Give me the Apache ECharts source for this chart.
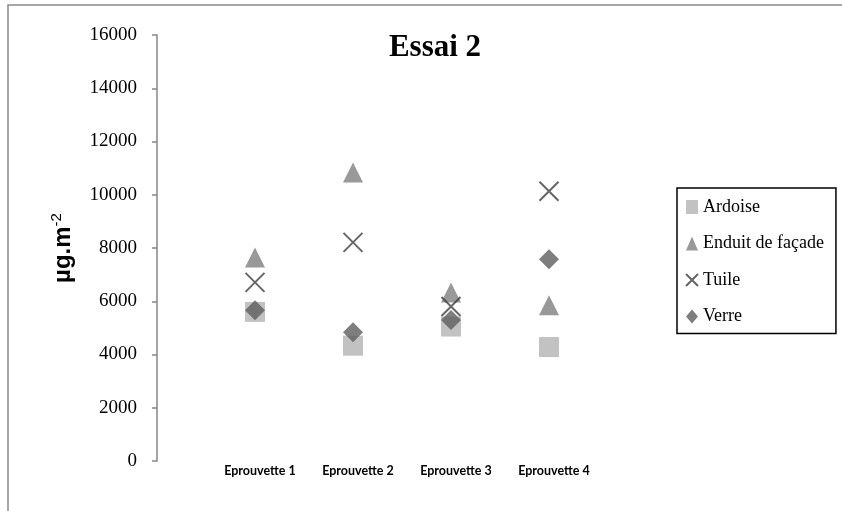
<!DOCTYPE html>
<html>
<head>
<meta charset="utf-8">
<script src="https://cdn.jsdelivr.net/npm/echarts@6/dist/echarts.min.js"></script>
<style>
  html, body { margin: 0; padding: 0; background: #fff; }
  #chart-container { width: 842px; height: 511px; }
</style>
</head>
<body>
<div id="chart-container"></div>
<script>
var categories = ['Eprouvette 1', 'Eprouvette 2', 'Eprouvette 3', 'Eprouvette 4'];
var seriesNames = ['Ardoise', 'Enduit de façade', 'Tuile', 'Verre'];
var ardoise = [5600, 4330, 5050, 4280];
var enduit = [7640, 10840, 6330, 5850];
var tuile = [6710, 8210, 5800, 10130];
var verre = [5660, 4840, 5300, 7580];
var yTicks = [0, 2000, 4000, 6000, 8000, 10000, 12000, 14000, 16000];

var dom = document.getElementById('chart-container');
var myChart = echarts.init(dom, null, { renderer: 'canvas' });

// point i sits on x = i + 1, so the labels line up with the markers
function toPoints(values) {
  return values.map(function (v, i) { return [i + 1, v]; });
}

var crossPath = 'path://M0,0L10,10M10,0L0,10';

var option = {
  animation: false,
  backgroundColor: '#fff',
  title: {
    text: 'Essai 2',
    left: 430,
    top: 27,
    textAlign: 'center',
    textStyle: {
      fontFamily: 'Liberation Serif',
      fontWeight: 'bold',
      fontSize: 31,
      color: '#000'
    }
  },
  graphic: [
    {
      type: 'rect',
      shape: { x: 8, y: 5, width: 900, height: 600 },
      style: { fill: 'none', stroke: '#8a8a8a', lineWidth: 1.5 },
      silent: true
    }
  ],
  legend: {
    orient: 'vertical',
    left: 677,
    top: 188,
    padding: [10, 12, 8, 8],
    itemWidth: 12,
    itemHeight: 14,
    itemGap: 18.5,
    borderColor: '#000',
    borderWidth: 1.5,
    data: seriesNames,
    textStyle: {
      fontFamily: 'Liberation Serif',
      fontSize: 18,
      color: '#000'
    }
  },
  grid: {
    left: 157,
    top: 35,
    width: 490,
    height: 426
  },
  xAxis: {
    type: 'value',
    min: 0,
    max: 5,
    interval: 1,
    splitLine: { show: false },
    axisLine: { show: false },
    axisTick: { show: false },
    axisLabel: {
      margin: 3,
      padding: [0, 0, 0, 10],
      fontFamily: 'Lato',
      fontWeight: 'bold',
      fontSize: 12.5,
      color: '#000',
      formatter: function (v) {
        return categories[v - 1] || '';
      }
    }
  },
  yAxis: {
    type: 'value',
    min: yTicks[0],
    max: yTicks[yTicks.length - 1],
    interval: 2000,
    splitLine: { show: false },
    axisLine: { show: true, lineStyle: { color: '#868686', width: 1.5 } },
    axisTick: { show: true, length: 5, lineStyle: { color: '#868686', width: 1.5 } },
    axisLabel: {
      margin: 20,
      fontFamily: 'Liberation Serif',
      fontSize: 19,
      color: '#000',
      formatter: function (v) { return String(v); }
    },
    name: '{a|µg.m}{b|-2}',
    nameLocation: 'middle',
    nameGap: 80,
    nameRotate: 90,
    nameTextStyle: {
      rich: {
        a: {
          fontFamily: 'Liberation Sans',
          fontWeight: 'bold',
          fontSize: 24,
          color: '#000',
          lineHeight: 28
        },
        b: {
          fontFamily: 'Liberation Sans',
          fontSize: 15,
          color: '#000',
          verticalAlign: 'top',
          lineHeight: 28
        }
      }
    }
  },
  series: [
    {
      name: seriesNames[0],
      type: 'scatter',
      symbol: 'rect',
      symbolSize: 20,
      itemStyle: { color: '#b3b3b3' },
      data: toPoints(ardoise)
    },
    {
      name: seriesNames[1],
      type: 'scatter',
      symbol: 'triangle',
      symbolSize: 20,
      itemStyle: { color: '#7f7f7f' },
      data: toPoints(enduit)
    },
    {
      name: seriesNames[2],
      type: 'scatter',
      symbol: crossPath,
      symbolSize: 19,
      itemStyle: { color: 'rgba(0,0,0,0)', borderColor: '#3f3f3f', borderWidth: 2 },
      data: toPoints(tuile)
    },
    {
      name: seriesNames[3],
      type: 'scatter',
      symbol: 'diamond',
      symbolSize: 20,
      itemStyle: { color: '#5e5e5e' },
      data: toPoints(verre)
    }
  ]
};

myChart.setOption(option);
window.addEventListener('resize', myChart.resize);
</script>
</body>
</html>
